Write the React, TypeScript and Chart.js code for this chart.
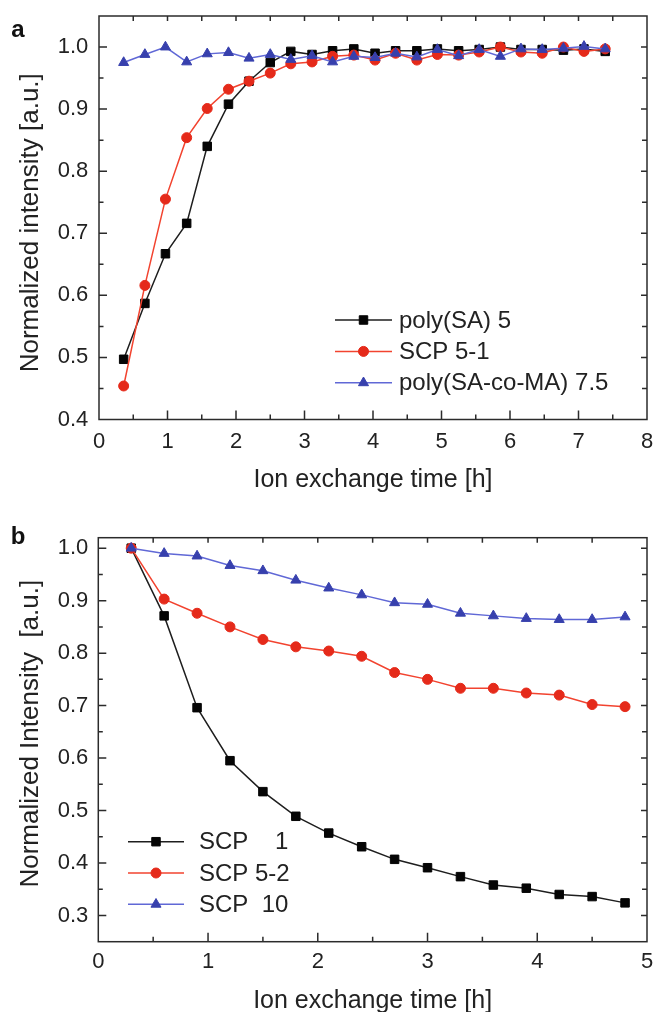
import React, { useEffect, useRef } from "react";
import { Chart, registerables } from "chart.js";

Chart.register(...registerables);

const FONT = '"Liberation Sans", Arial, Helvetica, sans-serif';
const TEXT = "#222222";
const FRAME = "#2b2b2b";

// ---- Panel a: normalized intensity during ion exchange ----
const TIME_A = [0.36, 0.67, 0.97, 1.28, 1.58, 1.89, 2.19, 2.5, 2.8, 3.11, 3.41, 3.72, 4.03, 4.33, 4.64, 4.94, 5.25, 5.55, 5.86, 6.16, 6.47, 6.78, 7.08, 7.39];
const POLY_SA_5 = [0.497, 0.587, 0.667, 0.716, 0.84, 0.908, 0.945, 0.975, 0.993, 0.988, 0.994, 0.997, 0.99, 0.994, 0.994, 0.997, 0.994, 0.996, 1.0, 0.996, 0.996, 0.995, 0.997, 0.993];
const SCP_5_1 = [0.454, 0.616, 0.755, 0.854, 0.901, 0.932, 0.945, 0.958, 0.973, 0.976, 0.985, 0.987, 0.979, 0.99, 0.979, 0.988, 0.987, 0.992, 1.0, 0.992, 0.99, 1.0, 0.993, 0.997];
const POLY_SA_CO_MA_7_5 = [0.975, 0.988, 1.0, 0.976, 0.989, 0.991, 0.982, 0.988, 0.98, 0.986, 0.976, 0.985, 0.983, 0.99, 0.984, 0.996, 0.986, 0.996, 0.985, 0.997, 0.996, 0.998, 1.001, 0.997];
const X_TICKS_A = [0, 1, 2, 3, 4, 5, 6, 7, 8];
const Y_TICKS_A = [0.4, 0.5, 0.6, 0.7, 0.8, 0.9, 1.0];

// ---- Panel b ----
const TIME_B = [0.3, 0.6, 0.9, 1.2, 1.5, 1.8, 2.1, 2.4, 2.7, 3.0, 3.3, 3.6, 3.9, 4.2, 4.5, 4.8];
const SCP_1 = [1.0, 0.871, 0.696, 0.595, 0.536, 0.489, 0.457, 0.431, 0.407, 0.391, 0.374, 0.358, 0.352, 0.34, 0.336, 0.324];
const SCP_5_2 = [1.0, 0.903, 0.876, 0.85, 0.826, 0.812, 0.804, 0.794, 0.763, 0.75, 0.733, 0.733, 0.724, 0.72, 0.702, 0.698];
const SCP_10 = [1.0, 0.99, 0.985, 0.967, 0.957, 0.939, 0.924, 0.911, 0.896, 0.893, 0.876, 0.871, 0.866, 0.864, 0.864, 0.869];
const X_TICKS_B = [0, 1, 2, 3, 4, 5];
const Y_TICKS_B = [0.3, 0.4, 0.5, 0.6, 0.7, 0.8, 0.9, 1.0];

const MARKERS = {
  square: { line: "#1e1e1e", fill: "#050505", pointStyle: "rect", radius: 6 },
  circle: { line: "#f2432f", fill: "#e52a1a", pointStyle: "circle", radius: 5 },
  triangle: { line: "#6068d6", fill: "#3740ad", pointStyle: "triangle", radius: 5.8 },
};
type MarkerKey = keyof typeof MARKERS;

function dataset(label: string, xs: number[], ys: number[], mk: MarkerKey, order: number) {
  const st = MARKERS[mk];
  return {
    label,
    data: xs.map((x, i) => ({ x, y: ys[i] })),
    borderColor: st.line,
    backgroundColor: st.fill,
    borderWidth: 1.5,
    pointStyle: st.pointStyle,
    pointRadius: st.radius,
    pointBackgroundColor: st.fill,
    pointBorderColor: st.fill,
    pointBorderWidth: 1,
    tension: 0,
    fill: false,
    order,
    marker: mk,
  };
}

function drawMarker(ctx: CanvasRenderingContext2D, mk: MarkerKey, x: number, y: number) {
  const st = MARKERS[mk];
  const r = st.radius;
  ctx.fillStyle = st.fill;
  ctx.strokeStyle = st.fill;
  ctx.lineWidth = 1;
  ctx.beginPath();
  if (mk === "square") {
    const s = Math.SQRT1_2 * r;
    ctx.rect(x - s, y - s, 2 * s, 2 * s);
  } else if (mk === "circle") {
    ctx.arc(x, y, r, 0, Math.PI * 2);
  } else {
    let rad = 0;
    ctx.moveTo(x + Math.sin(rad) * r, y - Math.cos(rad) * r);
    rad += (2 * Math.PI) / 3;
    ctx.lineTo(x + Math.sin(rad) * r, y - Math.cos(rad) * r);
    rad += (2 * Math.PI) / 3;
    ctx.lineTo(x + Math.sin(rad) * r, y - Math.cos(rad) * r);
    ctx.closePath();
  }
  ctx.fill();
  ctx.stroke();
}

function midpoints(major: number[], min: number, max: number) {
  const out: number[] = [];
  const step = major[1] - major[0];
  for (let i = -1; i < major.length; i++) {
    const v = major[0] + (i + 0.5) * step;
    if (v > min + 1e-9 && v < max - 1e-9) out.push(v);
  }
  return out;
}

// Frame with inward ticks, axis titles, panel letter and legend
const panelDecor = {
  id: "panelDecor",
  afterDraw(chart: any, _args: any, opts: any) {
    const { ctx, chartArea: a, scales } = chart;
    const xs = scales.x;
    const ys = scales.y;
    ctx.save();

    ctx.strokeStyle = FRAME;
    ctx.lineWidth = 1.5;
    ctx.beginPath();
    const xMin = midpoints(opts.xMajor, xs.min, xs.max);
    const yMin = midpoints(opts.yMajor, ys.min, ys.max);
    const inX = (p: number) => p > a.left + 1 && p < a.right - 1;
    const inY = (p: number) => p > a.top + 1 && p < a.bottom - 1;
    for (const v of opts.xMajor) {
      const p = xs.getPixelForValue(v);
      if (!inX(p)) continue;
      ctx.moveTo(p, a.bottom); ctx.lineTo(p, a.bottom - 9);
      ctx.moveTo(p, a.top); ctx.lineTo(p, a.top + 5);
    }
    for (const v of xMin) {
      const p = xs.getPixelForValue(v);
      if (!inX(p)) continue;
      ctx.moveTo(p, a.bottom); ctx.lineTo(p, a.bottom - 5);
      ctx.moveTo(p, a.top); ctx.lineTo(p, a.top + 5);
    }
    for (const v of opts.yMajor) {
      const p = ys.getPixelForValue(v);
      if (!inY(p)) continue;
      ctx.moveTo(a.left, p); ctx.lineTo(a.left + 8, p);
      ctx.moveTo(a.right, p); ctx.lineTo(a.right - 6, p);
    }
    for (const v of yMin) {
      const p = ys.getPixelForValue(v);
      if (!inY(p)) continue;
      ctx.moveTo(a.left, p); ctx.lineTo(a.left + 4.5, p);
      ctx.moveTo(a.right, p); ctx.lineTo(a.right - 5, p);
    }
    ctx.stroke();
    ctx.strokeRect(a.left, a.top, a.right - a.left, a.bottom - a.top);

    // axis titles
    ctx.fillStyle = TEXT;
    ctx.textBaseline = "middle";
    ctx.textAlign = "center";
    ctx.font = `${opts.xTitleSize}px ${FONT}`;
    ctx.fillText(opts.xTitle, (a.left + a.right) / 2, opts.xTitleY);
    ctx.save();
    ctx.translate(opts.yTitleX, (a.top + a.bottom) / 2 + opts.yTitleShift);
    ctx.rotate(-Math.PI / 2);
    ctx.font = `${opts.yTitleSize}px ${FONT}`;
    ctx.fillText(opts.yTitle, 0, 0);
    ctx.restore();

    // panel letter
    ctx.font = `bold 24px ${FONT}`;
    ctx.textAlign = "center";
    ctx.fillStyle = "#111";
    ctx.fillText(opts.letter, opts.letterX, opts.letterY);

    // legend
    const lg = opts.legend;
    chart.data.datasets.forEach((d: any, i: number) => {
      const y = lg.y + i * lg.rowGap;
      ctx.strokeStyle = d.borderColor;
      ctx.lineWidth = 1.5;
      ctx.beginPath();
      ctx.moveTo(lg.x, y);
      ctx.lineTo(lg.x + lg.len, y);
      ctx.stroke();
      drawMarker(ctx, d.marker, lg.x + lg.len / 2, y);
      ctx.fillStyle = TEXT;
      ctx.textAlign = "left";
      ctx.textBaseline = "middle";
      ctx.font = `${lg.size}px ${FONT}`;
      ctx.fillText(d.label, lg.x + lg.len + lg.gap, y + 1);
    });
    ctx.restore();
  },
};

function axisConfig(
  min: number,
  max: number,
  ticks: number[],
  padding: number,
  size: { width?: number; height?: number },
  fmt: (v: number) => string
) {
  return {
    type: "linear",
    min,
    max,
    grid: { display: false, drawTicks: false },
    border: { display: false },
    afterBuildTicks: (s: any) => {
      s.ticks = ticks.map((v) => ({ value: v }));
    },
    // fixed box size, and no extra room reserved for the end labels
    afterFit: (s: any) => {
      if (size.width !== undefined) s.width = size.width;
      if (size.height !== undefined) s.height = size.height;
      s.paddingTop = 0;
      s.paddingBottom = 0;
      s.paddingLeft = 0;
      s.paddingRight = 0;
    },
    ticks: {
      autoSkip: false,
      maxRotation: 0,
      padding,
      color: TEXT,
      font: { family: FONT, size: 22 },
      callback: (v: any) => fmt(Number(v)),
    },
  };
}

function PanelChart({ height, config }: { height: number; config: any }) {
  const ref = useRef<HTMLCanvasElement | null>(null);
  useEffect(() => {
    if (!ref.current) return;
    const chart = new Chart(ref.current, config);
    return () => chart.destroy();
  }, [config]);
  return <canvas ref={ref} width={654} height={height} style={{ display: "block", width: 654, height }} />;
}

const configA = {
  type: "line",
  data: {
    datasets: [
      dataset("poly(SA) 5", TIME_A, POLY_SA_5, "square", 2),
      dataset("SCP 5-1", TIME_A, SCP_5_1, "circle", 1),
      dataset("poly(SA-co-MA) 7.5", TIME_A, POLY_SA_CO_MA_7_5, "triangle", 0),
    ],
  },
  options: {
    responsive: false,
    animation: false,
    devicePixelRatio: 1,
    layout: { padding: { top: 16, right: 6.5, left: 0, bottom: 0 } },
    plugins: {
      legend: { display: false },
      tooltip: { enabled: false },
      panelDecor: {
        xMajor: X_TICKS_A,
        yMajor: Y_TICKS_A,
        xTitle: "Ion exchange time [h]",
        xTitleY: 480,
        xTitleSize: 25,
        yTitle: "Normalized intensity [a.u.]",
        yTitleX: 31,
        yTitleShift: 5,
        yTitleSize: 26,
        letter: "a",
        letterX: 18,
        letterY: 30,
        legend: { x: 335, y: 320, rowGap: 31.4, len: 57, gap: 7, size: 24 },
      },
    },
    scales: {
      x: axisConfig(0, 8, X_TICKS_A, 9, { height: 80.5 }, (v) => String(v)),
      y: axisConfig(0.4, 1.05, Y_TICKS_A, 10.7, { width: 99 }, (v) => v.toFixed(1)),
    },
  },
  plugins: [panelDecor],
};

const configB = {
  type: "line",
  data: {
    datasets: [
      dataset("SCP    1", TIME_B, SCP_1, "square", 2),
      dataset("SCP 5-2", TIME_B, SCP_5_2, "circle", 1),
      dataset("SCP  10", TIME_B, SCP_10, "triangle", 0),
    ],
  },
  options: {
    responsive: false,
    animation: false,
    devicePixelRatio: 1,
    layout: { padding: { top: 37.7, right: 7, left: 0, bottom: 0 } },
    plugins: {
      legend: { display: false },
      tooltip: { enabled: false },
      panelDecor: {
        xMajor: X_TICKS_B,
        yMajor: Y_TICKS_B,
        xTitle: "Ion exchange time [h]",
        xTitleY: 501.5,
        xTitleSize: 25,
        yTitle: "Normalized Intensity  [a.u.]",
        yTitleX: 31,
        yTitleShift: -6,
        yTitleSize: 26,
        letter: "b",
        letterX: 18,
        letterY: 37,
        legend: { x: 128, y: 341.7, rowGap: 31.3, len: 56, gap: 15, size: 24 },
      },
    },
    scales: {
      x: axisConfig(0, 5, X_TICKS_B, 6.8, { height: 70.3 }, (v) => String(v)),
      y: axisConfig(0.25, 1.02, Y_TICKS_B, 10, { width: 98.3 }, (v) => v.toFixed(1)),
    },
  },
  plugins: [panelDecor],
};

export default function App() {
  return (
    <div style={{ position: "absolute", left: 0, top: 0, width: 654, height: 1012, background: "#fff", overflow: "hidden" }}>
      <PanelChart height={500} config={configA} />
      <PanelChart height={512} config={configB} />
    </div>
  );
}
